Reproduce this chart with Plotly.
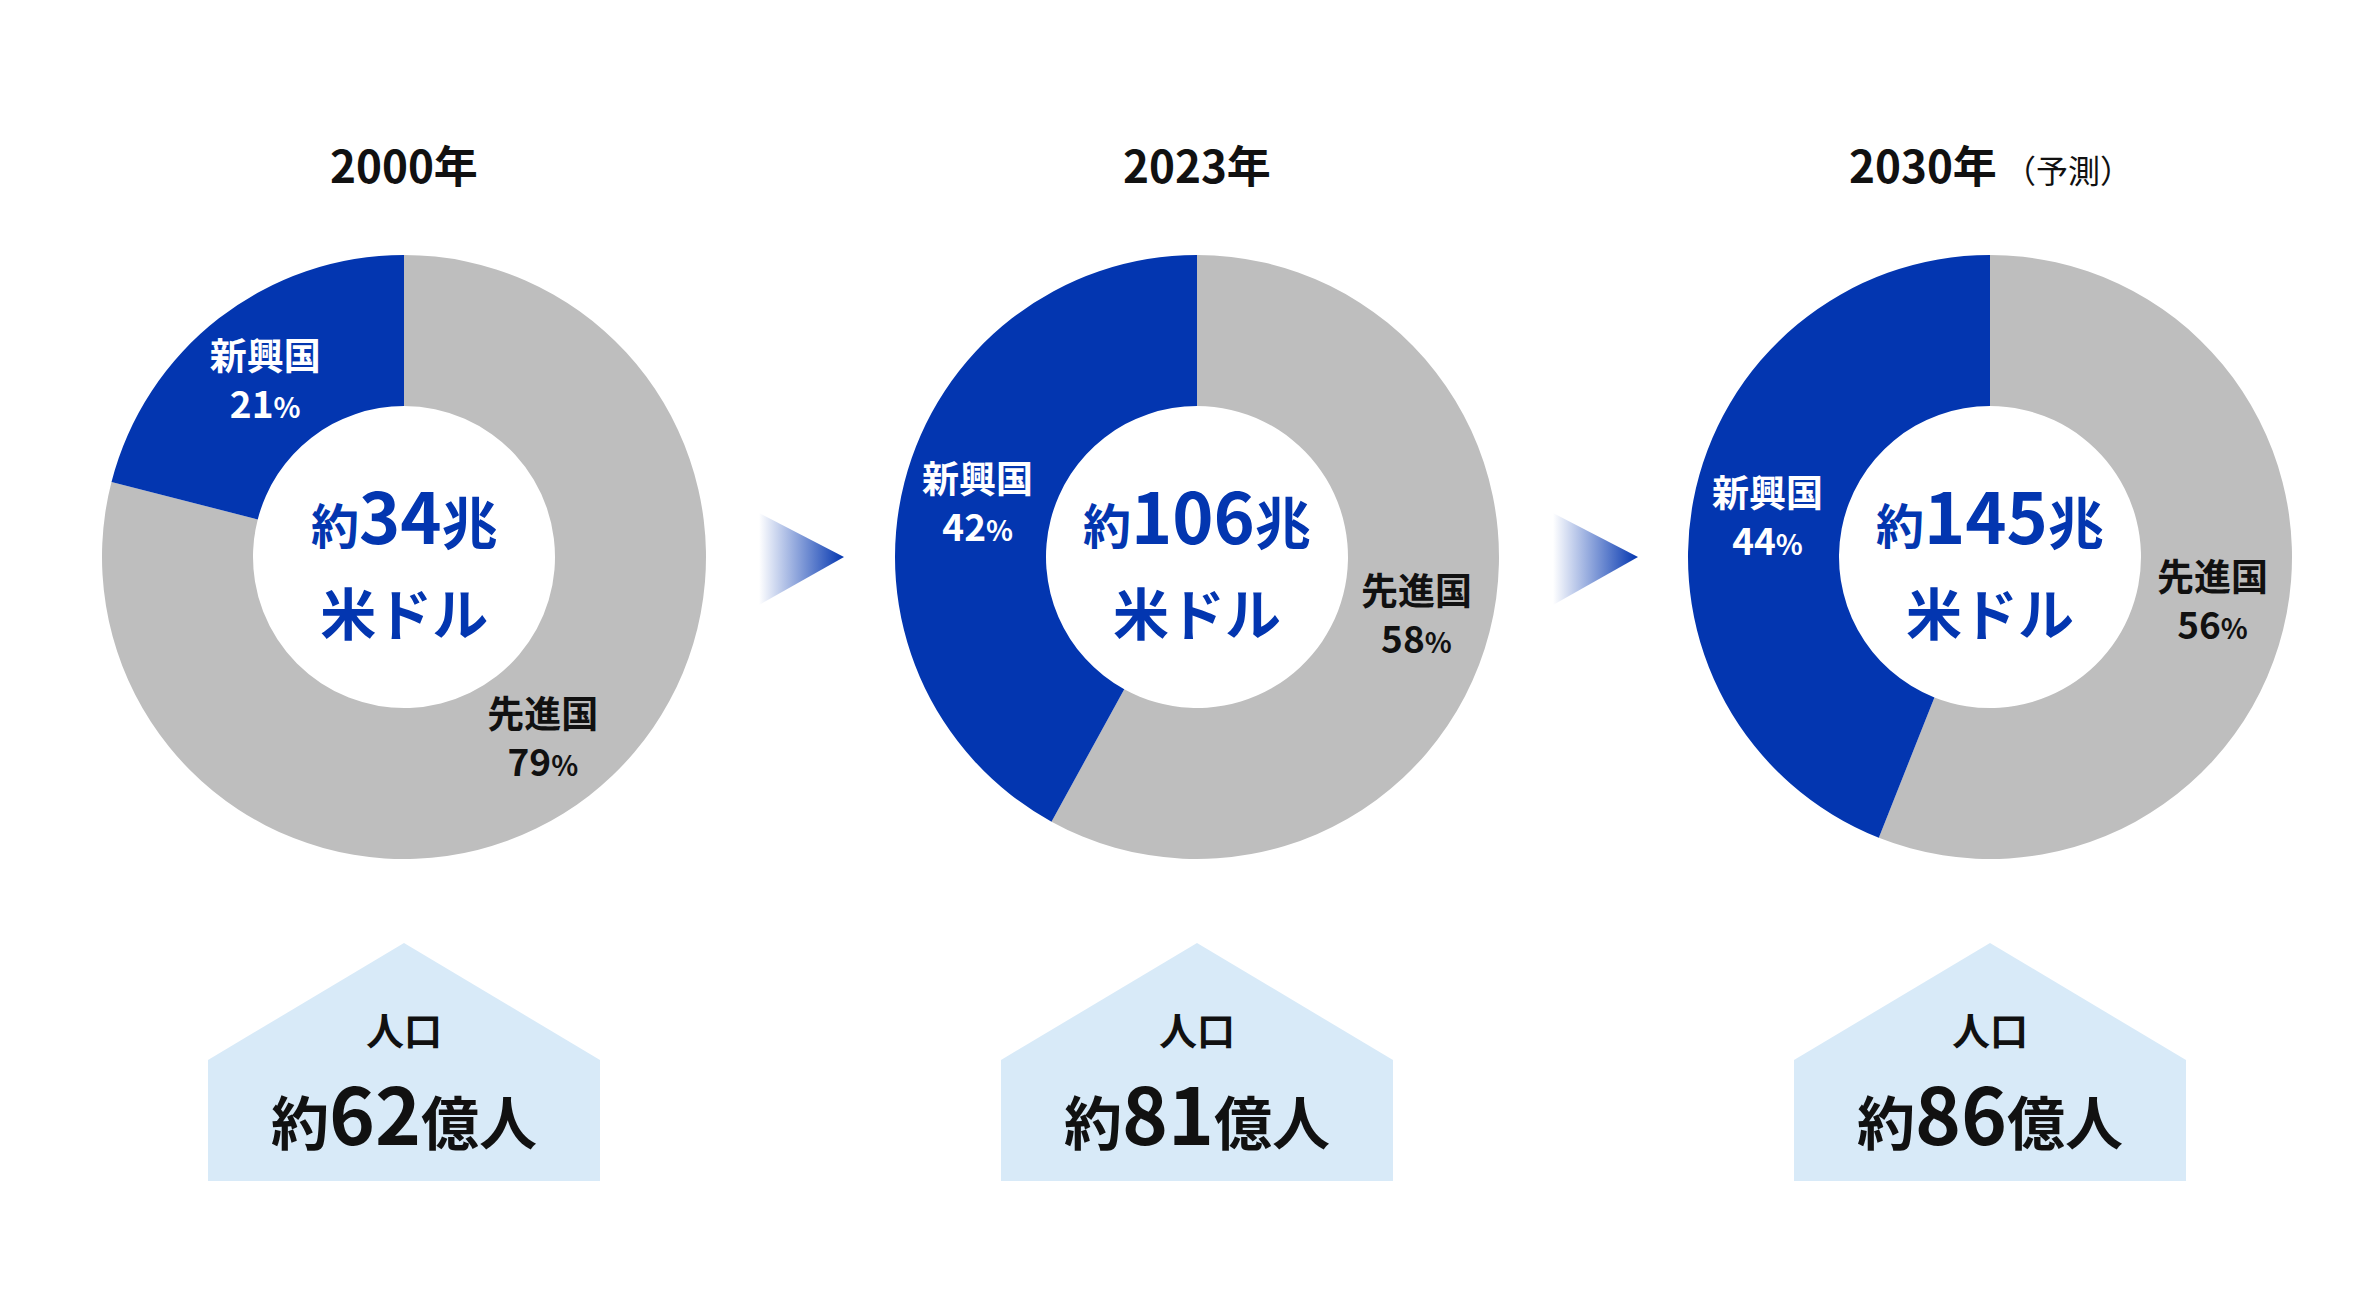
import plotly.graph_objects as go

W, H = 2368, 1300
years = ["2000年", "2023年", "2030年"]
year_notes = ["", "", "（予測）"]
labels = ["先進国", "新興国"]
emerging = [21, 42, 44]
advanced = [79, 58, 56]
gdp = ["34", "106", "145"]
population = ["62", "81", "86"]

BLUE = "#0336B0"
GREY = "#BEBEBE"
FONT = "Noto Sans CJK JP"
centers_x = [396, 1189, 1982]
cy, r = 549, 302

fig = go.Figure()
def px(x): return x / W
def py(y): return 1 - y / H

for i in range(3):
    cx = centers_x[i]
    fig.add_trace(go.Pie(
        labels=labels, values=[advanced[i], emerging[i]], sort=False,
        direction="clockwise", rotation=0, hole=0.5,
        marker=dict(colors=[GREY, BLUE], line=dict(width=0)),
        texttemplate="<b>%{label}</b><br><b>%{value}<span style='font-size:28px'>%</span></b>",
        textposition="inside", insidetextorientation="horizontal",
        textfont=dict(family=FONT, size=37, color=["#111", "white"]),
        domain=dict(x=[px(cx - r), px(cx + r)], y=[py(cy + r), py(cy - r)]),
        showlegend=False, hoverinfo="skip"))
    note = f"<span style='font-size:32px'> {year_notes[i]}</span>" if year_notes[i] else ""
    fig.add_annotation(x=cx, y=156, xref="x", yref="y", xanchor="center", yanchor="middle",
                       text=f"<b>{years[i]}</b>{note}", showarrow=False,
                       font=dict(family=FONT, size=44, color="#111"))
    fig.add_annotation(x=cx, y=549, xref="x", yref="y", xanchor="center", yanchor="middle",
                       text=f"<b><span style='font-size:48px'>約</span>{gdp[i]}<span style='font-size:56px'>兆</span><br><span style='font-size:56px'>米ドル</span></b>",
                       showarrow=False, font=dict(family=FONT, size=70, color=BLUE))
    x0, x1 = cx - 196, cx + 196
    fig.add_shape(type="path", xref="x", yref="y",
                  path=f"M {x0} 1052 L {cx} 935 L {x1} 1052 L {x1} 1173 L {x0} 1173 Z",
                  fillcolor="#D8EAF8", line=dict(width=0), layer="below")
    fig.add_annotation(x=cx, y=1020, xref="x", yref="y", xanchor="center", yanchor="middle",
                       text="<b>人口</b>", showarrow=False,
                       font=dict(family=FONT, size=38, color="#111"))
    fig.add_annotation(x=cx, y=1103, xref="x", yref="y", xanchor="center", yanchor="middle",
                       text=f"<b><span style='font-size:58px'>約</span>{population[i]}<span style='font-size:58px'>億人</span></b>",
                       showarrow=False, font=dict(family=FONT, size=78, color="#111"))

for ax0 in [751, 1545]:
    fig.add_trace(go.Scatter(x=[ax0, ax0 + 85, ax0, ax0], y=[505, 549, 597, 505],
                             fill="toself", mode="lines", line=dict(width=0),
                             fillgradient=dict(type="horizontal",
                                               colorscale=[[0, "rgba(255,255,255,1)"], [1, BLUE]]),
                             showlegend=False, hoverinfo="skip"))

fig.update_layout(width=W, height=H, margin=dict(l=0, r=0, t=0, b=0),
                  paper_bgcolor="white", plot_bgcolor="white",
                  xaxis=dict(range=[0, W], visible=False, fixedrange=True),
                  yaxis=dict(range=[H, 0], visible=False, fixedrange=True))
fig.write_html("out.html")
